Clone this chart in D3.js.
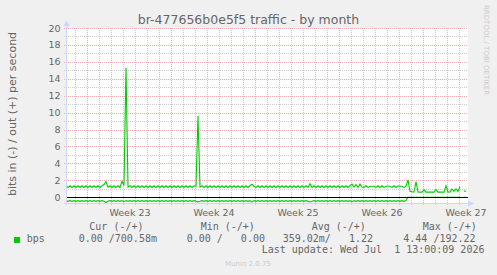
<!DOCTYPE html>
<html>
<head>
<meta charset="utf-8">
<script src="https://cdn.jsdelivr.net/npm/d3@7"></script>
<style>
  body { margin: 0; background: #f0f0f0; }
  svg text { font-family: "DejaVu Sans", sans-serif; fill: #666; }
  .mono { font-family: "DejaVu Sans Mono", monospace; font-size: 10px; white-space: pre; }
</style>
</head>
<body>
<svg id="chart" width="497" height="275"></svg>
<script>
// one sample every 4 hours (1/6 day), 33.5 days shown
const stepDays = 1 / 6;

const outBps = [
  1.36,1.16,1.36,1.16,1.36,1.16,1.36,1.16,1.36,1.16,
  1.36,1.16,1.36,1.16,1.36,1.16,1.36,1.16,1.36,1.50,
  1.85,1.20,1.36,1.16,1.36,1.16,1.36,1.16,1.90,1.40,
  15.3,1.20,1.36,1.16,1.36,1.16,1.36,1.16,1.36,1.16,
  1.36,1.16,1.36,1.16,1.36,1.16,1.36,1.16,1.36,1.16,
  1.36,1.16,1.36,1.16,1.36,1.16,1.36,1.16,1.36,1.16,
  1.36,1.16,1.36,1.16,1.36,1.30,9.60,1.20,1.36,1.16,
  1.36,1.16,1.36,1.16,1.36,1.16,1.36,1.16,1.36,1.16,
  1.36,1.16,1.36,1.16,1.36,1.16,1.36,1.16,1.36,1.16,
  1.36,1.16,1.36,1.55,1.30,1.16,1.36,1.16,1.36,1.16,
  1.36,1.16,1.36,1.16,1.36,1.16,1.36,1.16,1.36,1.16,
  1.36,1.16,1.36,1.16,1.36,1.16,1.36,1.16,1.36,1.16,
  1.36,1.16,1.60,1.16,1.36,1.16,1.36,1.16,1.36,1.16,
  1.36,1.16,1.36,1.16,1.36,1.16,1.36,1.16,1.36,1.16,
  1.36,1.16,1.36,1.55,1.20,1.50,1.16,1.55,1.20,1.16,
  1.36,1.16,1.30,1.30,1.30,1.16,1.36,1.16,1.36,1.16,
  1.30,1.30,1.30,1.16,1.36,1.16,1.36,1.30,1.30,1.16,
  1.30,2.05,0.70,0.65,0.60,1.85,0.62,0.60,0.60,0.88,
  0.60,0.60,0.60,0.60,0.60,0.90,0.60,0.60,0.60,0.60,
  1.34,0.62,0.60,0.95,0.70,1.00,0.70,1.25,null,0.72,
  0.70
];

const inBps = [
  -0.40,-0.48,-0.40,-0.48,-0.40,-0.48,-0.40,-0.48,-0.40,-0.48,
  -0.40,-0.48,-0.40,-0.48,-0.40,-0.48,-0.40,-0.48,-0.40,-0.48,
  -0.62,-0.48,-0.40,-0.48,-0.40,-0.48,-0.40,-0.48,-0.40,-0.52,
  -0.40,-0.48,-0.40,-0.48,-0.40,-0.48,-0.40,-0.48,-0.40,-0.48,
  -0.40,-0.48,-0.40,-0.48,-0.40,-0.48,-0.40,-0.48,-0.40,-0.48,
  -0.40,-0.48,-0.40,-0.48,-0.40,-0.48,-0.40,-0.48,-0.40,-0.48,
  -0.40,-0.48,-0.40,-0.48,-0.40,-0.48,-0.55,-0.48,-0.40,-0.48,
  -0.40,-0.48,-0.40,-0.48,-0.40,-0.48,-0.40,-0.48,-0.40,-0.48,
  -0.40,-0.48,-0.40,-0.48,-0.40,-0.48,-0.40,-0.48,-0.40,-0.48,
  -0.40,-0.48,-0.40,-0.58,-0.40,-0.48,-0.40,-0.48,-0.40,-0.48,
  -0.40,-0.48,-0.40,-0.48,-0.40,-0.48,-0.40,-0.48,-0.40,-0.48,
  -0.40,-0.48,-0.40,-0.48,-0.40,-0.48,-0.40,-0.48,-0.40,-0.48,
  -0.40,-0.48,-0.56,-0.48,-0.40,-0.48,-0.40,-0.48,-0.40,-0.48,
  -0.40,-0.48,-0.40,-0.48,-0.40,-0.48,-0.40,-0.48,-0.40,-0.48,
  -0.40,-0.48,-0.40,-0.55,-0.40,-0.48,-0.40,-0.48,-0.40,-0.48,
  -0.40,-0.48,-0.40,-0.48,-0.40,-0.48,-0.40,-0.48,-0.40,-0.48,
  -0.40,-0.48,-0.40,-0.48,-0.40,-0.48,-0.40,-0.48,-0.40,-0.48,
  -0.40,0,0,0,0,0,0,0,0,0,
  0,0,0,0,0,0,0,0,0,0,
  0,0,0,0,0,0,0,0,null,0,
  0
];

const yTicks = [0, 2, 4, 6, 8, 10, 12, 14, 16, 18, 20];
const weekStarts = [1.79, 8.79, 15.79, 22.79, 29.79];
const weekLabels = ["Week 23", "Week 24", "Week 25", "Week 26", "Week 27"];

const legendHeaders = ["Cur (-/+)", "Min (-/+)", "Avg (-/+)", "Max (-/+)"];
const legendValues = ["0.00 /700.58m", "0.00 /   0.00", "359.02m/   1.22", "4.44 /192.22"];

const svg = d3.select("#chart");
const x = d3.scaleLinear().domain([0, 33.5]).range([66, 468]);
const y = d3.scaleLinear().domain([-0.68, 20]).range([203, 28]);
const px = v => Math.round(v) + 0.5;

const minorCol = "#cdcdcd";
const majorCol = "#eab0b0";

svg.append("rect").attr("width", 497).attr("height", 275).attr("fill", "#f0f0f0");
svg.append("rect")
  .attr("x", x(0)).attr("y", y(20))
  .attr("width", x(33.5) - x(0)).attr("height", y(-0.68) - y(20))
  .attr("fill", "#fff");

// grid
const grid = svg.append("g").attr("shape-rendering", "crispEdges");
const dayLines = d3.range(weekStarts[0] - 1, 33.5, 1);
dayLines.forEach(d => {
  const major = weekStarts.some(w => Math.abs(w - d) < 0.01);
  grid.append("line")
    .attr("x1", px(x(d))).attr("x2", px(x(d)))
    .attr("y1", y(20)).attr("y2", y(-0.68) + 2)
    .attr("stroke", major ? majorCol : minorCol)
    .attr("stroke-dasharray", "1,1");
});
d3.range(1, 21).forEach(v => {
  grid.append("line")
    .attr("x1", x(0) - 2).attr("x2", x(33.5))
    .attr("y1", px(y(v))).attr("y2", px(y(v)))
    .attr("stroke", v % 2 === 0 ? majorCol : minorCol)
    .attr("stroke-dasharray", "1,1");
});

// series
const line = d3.line()
  .defined(d => d != null)
  .x((d, i) => x(i * stepDays))
  .y(d => y(d));

svg.append("path").datum(inBps)
  .attr("d", line).attr("fill", "none").attr("stroke", "#00cc00").attr("stroke-width", 1.1);
svg.append("path").datum(outBps)
  .attr("d", line).attr("fill", "none").attr("stroke", "#00cc00").attr("stroke-width", 1.1);

// zero line
svg.append("line")
  .attr("x1", x(0)).attr("x2", x(inBps.length * stepDays))
  .attr("y1", px(y(0))).attr("y2", px(y(0)))
  .attr("stroke", "#000").attr("shape-rendering", "crispEdges");

// axes lines and arrows
const axisCol = "#cfd6f8";
svg.append("line").attr("x1", px(x(0))).attr("x2", px(x(0)))
  .attr("y1", y(-0.68) + 2).attr("y2", 22)
  .attr("stroke", axisCol).attr("shape-rendering", "crispEdges");
svg.append("path")
  .attr("d", `M${px(x(0)) - 3},26 L${px(x(0)) + 3},26 L${px(x(0))},20 Z`)
  .attr("fill", axisCol);
svg.append("line").attr("x1", x(0) - 2).attr("x2", 470)
  .attr("y1", px(y(-0.68))).attr("y2", px(y(-0.68)))
  .attr("stroke", axisCol).attr("shape-rendering", "crispEdges");
svg.append("path")
  .attr("d", `M468,${px(y(-0.68)) - 3} L468,${px(y(-0.68)) + 3} L474,${px(y(-0.68))} Z`)
  .attr("fill", axisCol);

// tick labels
const yAxis = svg.append("g")
  .attr("transform", `translate(${x(0)},0)`)
  .call(d3.axisLeft(y).tickValues(yTicks).tickSize(0).tickPadding(5.5));
const xAxis = svg.append("g")
  .attr("transform", `translate(0,${y(-0.68)})`)
  .call(d3.axisBottom(x).tickValues(weekStarts.map(w => w + 3.5))
    .tickFormat((d, i) => weekLabels[i]).tickSize(0).tickPadding(6.7));
[yAxis, xAxis].forEach(a => {
  a.select(".domain").remove();
  a.selectAll("text").attr("fill", "#666")
    .style("font-family", "'DejaVu Sans', sans-serif").style("font-size", "9.5px");
});

// title and side texts
svg.append("text").attr("x", 248.5).attr("y", 24).attr("text-anchor", "middle")
  .style("font-size", "12.5px").text("br-477656b0e5f5 traffic - by month");
svg.append("text")
  .attr("transform", "translate(16,114) rotate(-90)")
  .attr("text-anchor", "middle").style("font-size", "11px")
  .text("bits in (-) / out (+) per second");
svg.append("text")
  .attr("transform", "translate(484,5) rotate(90)")
  .style("font-size", "7px").style("fill", "#ccc")
  .text("RRDTOOL / TOBI OETIKER");

// legend
const headerX = [89.3, 200.7, 311.7, 422.7];
const valueX = [78.7, 186.7, 282.7, 403.3];
svg.selectAll(".lh").data(legendHeaders).enter().append("text")
  .attr("class", "mono").attr("x", (d, i) => headerX[i]).attr("y", 230).text(d => d);
svg.selectAll(".lv").data(legendValues).enter().append("text")
  .attr("class", "mono").attr("x", (d, i) => valueX[i]).attr("y", 241.5).text(d => d);
svg.append("rect").attr("x", 14).attr("y", 237).attr("width", 6).attr("height", 6).attr("fill", "#00cc00");
svg.append("text").attr("class", "mono").attr("x", 26.7).attr("y", 241.5).text("bps");
svg.append("text").attr("class", "mono").attr("x", 261.7).attr("y", 253.3)
  .text("Last update: Wed Jul  1 13:00:09 2026");
svg.append("text").attr("x", 248).attr("y", 266).attr("text-anchor", "middle")
  .style("font-size", "7px").style("fill", "#ccc").text("Munin 2.0.75");
</script>
</body>
</html>
